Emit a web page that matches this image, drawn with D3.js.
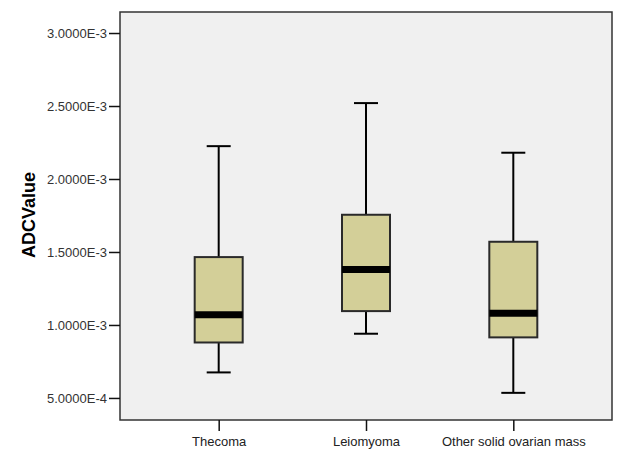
<!DOCTYPE html>
<html lang="en">
  <head>
    <meta charset="UTF-8" />
    <title>ADCValue boxplot</title>
    <script src="https://d3js.org/d3.v7.min.js"></script>
    <style>
      body {
        margin: 0;
        background: #fff;
      }
      svg text {
        font-family: "Liberation Sans", Arial, sans-serif;
      }
    </style>
  </head>
  <body>
    <div id="chart"></div>
    <script>
      // values (units of 1e-3)
      const groups = ["Thecoma", "Leiomyoma", "Other solid ovarian mass"];
      const whiskerLow = [0.675, 0.94, 0.535];
      const q1 = [0.88, 1.095, 0.915];
      const medians = [1.07, 1.38, 1.08];
      const q3 = [1.465, 1.755, 1.57];
      const whiskerHigh = [2.225, 2.52, 2.18];
      const yTicks = [0.5, 1.0, 1.5, 2.0, 2.5, 3.0];
      const yTickLabels = ["5.0000E-4", "1.0000E-3", "1.5000E-3", "2.0000E-3", "2.5000E-3", "3.0000E-3"];

      const width = 625;
      const height = 459;
      const plot = { left: 120, top: 12, right: 612, bottom: 420 };

      const svg = d3
        .select("#chart")
        .append("svg")
        .attr("width", width)
        .attr("height", height);

      const x = d3
        .scalePoint()
        .domain(groups)
        .range([plot.left, plot.right])
        .padding(0.67);

      const y = d3
        .scaleLinear()
        .domain([0.349, 3.144])
        .range([plot.bottom, plot.top]);

      // plot background
      svg
        .append("rect")
        .attr("x", plot.left)
        .attr("y", plot.top)
        .attr("width", plot.right - plot.left)
        .attr("height", plot.bottom - plot.top)
        .attr("fill", "#f0f0f0")
        .attr("stroke", "#333")
        .attr("stroke-width", 1.5);

      // y axis
      const yAxis = svg
        .append("g")
        .attr("transform", `translate(${plot.left},0)`)
        .call(
          d3
            .axisLeft(y)
            .tickValues(yTicks)
            .tickFormat((d, i) => yTickLabels[i])
            .tickSize(11)
            .tickPadding(2)
        );
      yAxis.select(".domain").remove();
      yAxis.selectAll(".tick line").attr("stroke", "#111").attr("stroke-width", 1.5);
      yAxis.selectAll(".tick text").attr("font-size", 13).attr("fill", "#333");

      // x axis
      const xAxis = svg
        .append("g")
        .attr("transform", `translate(0,${plot.bottom})`)
        .call(d3.axisBottom(x).tickSize(11).tickPadding(6));
      xAxis.select(".domain").remove();
      xAxis.selectAll(".tick line").attr("stroke", "#111").attr("stroke-width", 1.5);
      xAxis.selectAll(".tick text").attr("font-size", 13).attr("fill", "#222");

      // y axis title
      svg
        .append("text")
        .attr("transform", `translate(35,215) rotate(-90)`)
        .attr("text-anchor", "middle")
        .attr("font-size", 18)
        .attr("font-weight", "bold")
        .attr("fill", "#000")
        .text("ADCValue");

      const boxHalf = 24;
      const capHalf = 12;

      groups.forEach((g, i) => {
        const cx = x(g);
        const b = svg.append("g");

        // whiskers
        b.append("line")
          .attr("x1", cx).attr("x2", cx)
          .attr("y1", y(q3[i])).attr("y2", y(whiskerHigh[i]))
          .attr("stroke", "#000").attr("stroke-width", 2);
        b.append("line")
          .attr("x1", cx).attr("x2", cx)
          .attr("y1", y(q1[i])).attr("y2", y(whiskerLow[i]))
          .attr("stroke", "#000").attr("stroke-width", 2);
        b.append("line")
          .attr("x1", cx - capHalf).attr("x2", cx + capHalf)
          .attr("y1", y(whiskerHigh[i])).attr("y2", y(whiskerHigh[i]))
          .attr("stroke", "#000").attr("stroke-width", 2);
        b.append("line")
          .attr("x1", cx - capHalf).attr("x2", cx + capHalf)
          .attr("y1", y(whiskerLow[i])).attr("y2", y(whiskerLow[i]))
          .attr("stroke", "#000").attr("stroke-width", 2);

        // box
        b.append("rect")
          .attr("x", cx - boxHalf)
          .attr("y", y(q3[i]))
          .attr("width", boxHalf * 2)
          .attr("height", y(q1[i]) - y(q3[i]))
          .attr("fill", "#d3cf98")
          .attr("stroke", "#2a2a2a")
          .attr("stroke-width", 2);

        // median
        b.append("line")
          .attr("x1", cx - boxHalf).attr("x2", cx + boxHalf)
          .attr("y1", y(medians[i])).attr("y2", y(medians[i]))
          .attr("stroke", "#000").attr("stroke-width", 7);
      });
    </script>
  </body>
</html>
